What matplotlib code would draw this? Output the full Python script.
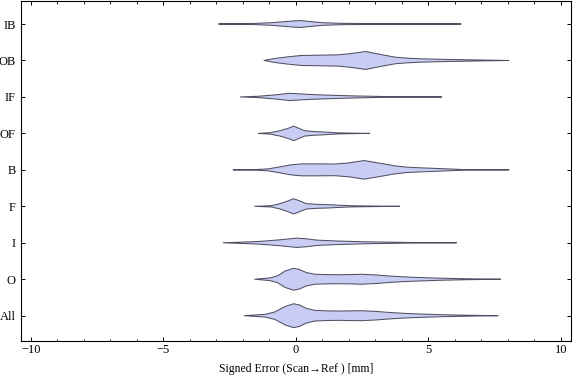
import numpy as np
import matplotlib
matplotlib.use("Agg")
import matplotlib.pyplot as plt
from matplotlib.ticker import MultipleLocator

plt.rcParams['font.family'] = ['Liberation Serif', 'DejaVu Serif']

# categories, bottom to top
categories = ["All", "O", "I", "F", "B", "OF", "IF", "OB", "IB"]

# violin profiles: error value [mm] and relative density
all_x = [-1.95, -1.17, -0.8, -0.4, -0.08, 0.15, 0.4, 0.72, 1.2, 1.6, 2.0, 2.48,
         3.0, 3.48, 4.1, 4.74, 5.5, 6.38, 7.63]
all_d = [0, 4, 11, 28, 36, 32, 22, 16, 14.5, 14, 14.5, 15, 13, 10, 7, 5, 3, 1.5, 0]
o_x = [-1.55, -0.98, -0.7, -0.4, -0.08, 0.15, 0.4, 0.72, 1.2, 1.6, 2.0, 2.48,
       3.0, 3.48, 4.1, 4.74, 5.5, 6.38, 7.72]
o_d = [0, 4, 10, 25, 33, 29, 20, 15, 14, 13.5, 14, 15, 13, 10, 7, 5, 3, 1.5, 0]
i_x = [-2.74, -1.67, -1.2, -0.6, 0.03, 0.4, 0.8, 1.5, 2.6, 3.4, 4.23, 6.06]
i_d = [0, 3, 5, 9, 14, 12, 8, 5.5, 3, 2, 1, 0]
f_x = [-1.55, -0.92, -0.6, -0.3, -0.08, 0.15, 0.4, 0.8, 1.22, 1.7, 2.23, 3.92]
f_d = [0, 2, 8, 16, 23, 16, 8, 6, 5, 3, 1.5, 0]
b_x = [-2.37, -1.5, -1.04, -0.6, -0.2, 0.21, 0.9, 1.47, 2.0, 2.58, 3.1, 3.74,
       4.2, 4.74, 5.4, 6.0, 6.5, 8.04]
b_d = [0, 1, 3, 9, 15, 18, 18, 17.5, 21, 28, 21, 12, 8, 6, 4, 2, 0.5, 0]
of_x = [-1.42, -0.98, -0.6, -0.3, -0.08, 0.12, 0.34, 0.7, 1.09, 1.6, 2.79]
of_d = [0, 2, 8, 15, 22, 15, 8, 5.5, 4, 1.5, 0]
if_x = [-2.09, -1.42, -0.8, -0.23, 0.4, 0.97, 1.6, 2.23, 3.48, 5.5]
if_d = [0, 2, 6, 11, 8, 6, 4.5, 3, 1, 0]
ob_x = [-1.2, -0.8, -0.3, 0.2, 0.9, 1.6, 2.1, 2.63, 3.2, 3.74, 4.2, 4.74, 5.75,
        7.25, 8.04]
ob_d = [0, 6, 11, 15, 16, 17, 21, 27, 18, 10, 7, 5, 3, 1, 0]
ib_x = [-2.91, -1.8, -0.9, -0.3, 0.15, 0.6, 1.0, 1.7, 3.0, 4.5, 6.23]
ib_d = [0, 1, 4, 8, 10.5, 7, 4, 2, 1, 0.5, 0]

profiles = [(all_x, all_d), (o_x, o_d), (i_x, i_d), (f_x, f_d), (b_x, b_d),
            (of_x, of_d), (if_x, if_d), (ob_x, ob_d), (ib_x, ib_d)]

scale = 0.0091  # density -> half width in category units
fill_col = "#c9cdf3"
edge_col = "#505062"

fig = plt.figure(figsize=(5.76, 3.81), dpi=100)
ax = fig.add_axes([20.7/576, 40/381, 550.3/576, 340.5/381])

for pos, (xs, ds) in enumerate(profiles, start=1):
    xs = np.asarray(xs, dtype=float)
    hw = np.asarray(ds, dtype=float)*scale
    px = np.concatenate([xs, xs[::-1]])
    py = np.concatenate([pos + hw, (pos - hw)[::-1]])
    ax.fill(px, py, facecolor=fill_col, edgecolor=edge_col, linewidth=0.75,
            joinstyle='round')

ax.set_xlim(-10.38, 10.38)
ax.set_ylim(0.306, 9.645)
ax.xaxis.set_major_locator(MultipleLocator(5))
ax.xaxis.set_minor_locator(MultipleLocator(1))
ax.set_yticks(range(1, len(categories) + 1))
ax.set_yticklabels(categories)
ax.tick_params(axis='x', which='major', direction='in', length=3, width=0.7,
               top=True, labelsize=9, pad=2.5)
ax.tick_params(axis='x', which='minor', direction='in', length=1.8, width=0.6,
               top=True)
ax.tick_params(axis='y', which='major', direction='in', length=3, width=0.7,
               right=True, labelsize=9, pad=3.5)
ax.tick_params(axis='y', which='minor', left=False, right=False)
for sp in ax.spines.values():
    sp.set_linewidth(0.8)

ax.set_xlabel("Signed Error (Scan\u2192Ref ) [mm]", fontsize=8.5, labelpad=5)

fig.savefig("out.png", dpi=100)
